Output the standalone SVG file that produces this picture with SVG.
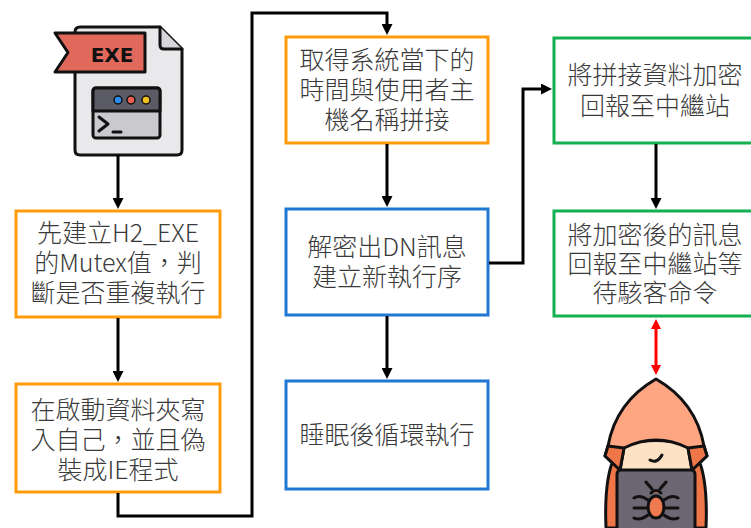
<svg xmlns="http://www.w3.org/2000/svg" width="751" height="528" viewBox="0 0 751 528">
  <style>
    .box { fill: #ffffff; stroke-width: 3; }
    .orange { stroke: #ff9b0a; }
    .blue { stroke: #1f78d2; }
    .green { stroke: #12b050; }
    .lbl { font-family: "Noto Sans CJK TC", "Noto Sans CJK SC", sans-serif; font-size: 25px; font-weight: 300; fill: #3a3a3a; text-anchor: middle; }
    .conn { fill: none; stroke: #000000; stroke-width: 3; }
    .ink { stroke: #111111; stroke-width: 3; stroke-linejoin: round; stroke-linecap: round; }
  </style>
  <defs>
    <marker id="arrow" markerUnits="userSpaceOnUse" markerWidth="11" markerHeight="11" refX="3" refY="5.5" orient="auto">
      <path d="M0,0 L11,5.5 L0,11 Z" fill="#000000"/>
    </marker>
    <marker id="arrowRed" markerUnits="userSpaceOnUse" markerWidth="10" markerHeight="10" refX="3" refY="5" orient="auto-start-reverse">
      <path d="M0,0 L10,5 L0,10 Z" fill="#ff0000"/>
    </marker>
  </defs>

  <rect x="0" y="0" width="751" height="528" fill="#ffffff"/>

  <!-- executable file icon -->
  <g id="exe-icon">
    <path class="ink" d="M80,27 L160,27 L182,49 L182,150 Q182,155 177,155 L80,155 Q75,155 75,150 L75,32 Q75,27 80,27 Z" fill="#e9e9ec"/>
    <path class="ink" d="M160,27 L160,45 Q160,49 164,49 L182,49" fill="#d6d6da"/>
    <path class="ink" d="M55,33 L145,33 L145,72 L55,72 L68,52.5 Z" fill="#e0695c"/>
    <text x="112" y="62" font-family="DejaVu Sans, sans-serif" font-weight="bold" font-size="20" fill="#111111" text-anchor="middle">EXE</text>
    <rect class="ink" x="93" y="88" width="67" height="50" rx="3" fill="#c9c9ce"/>
    <path class="ink" d="M96,88 L157,88 Q160,88 160,91 L160,111 L93,111 L93,91 Q93,88 96,88 Z" fill="#5b5b66"/>
    <circle cx="118" cy="100" r="4" fill="#2e8cf0" stroke="#111" stroke-width="1.5"/>
    <circle cx="131" cy="100" r="4" fill="#e8604f" stroke="#111" stroke-width="1.5"/>
    <circle cx="146" cy="100" r="4" fill="#f4c020" stroke="#111" stroke-width="1.5"/>
    <path class="ink" d="M99,117 L108,124 L99,131" fill="none"/>
    <path class="ink" d="M113,132 L121,132" fill="none"/>
  </g>

  <!-- process steps -->
  <g id="step-mutex">
    <rect class="box orange" x="16" y="211" width="204" height="106"/>
    <text class="lbl"><tspan x="118" y="242">先建立H2_EXE</tspan><tspan x="118" y="272">的Mutex值，判</tspan><tspan x="118" y="302">斷是否重複執行</tspan></text>
  </g>

  <g id="step-startup">
    <rect class="box orange" x="16" y="384" width="204" height="108"/>
    <text class="lbl"><tspan x="118" y="419">在啟動資料夾寫</tspan><tspan x="118" y="449">入自己，並且偽</tspan><tspan x="118" y="479">裝成IE程式</tspan></text>
  </g>

  <g id="step-hostinfo">
    <rect class="box orange" x="286" y="37" width="202" height="106"/>
    <text class="lbl"><tspan x="387" y="69">取得系統當下的</tspan><tspan x="387" y="99">時間與使用者主</tspan><tspan x="387" y="129">機名稱拼接</tspan></text>
  </g>

  <g id="step-decrypt">
    <rect class="box blue" x="286" y="209" width="202" height="106"/>
    <text class="lbl"><tspan x="387" y="256">解密出DN訊息</tspan><tspan x="387" y="286">建立新執行序</tspan></text>
  </g>

  <g id="step-sleep">
    <rect class="box blue" x="286" y="381" width="202" height="108"/>
    <text class="lbl" x="387" y="444">睡眠後循環執行</text>
  </g>

  <g id="step-report">
    <rect class="box green" x="554" y="38" width="204" height="105"/>
    <text class="lbl"><tspan x="655" y="84">將拼接資料加密</tspan><tspan x="655" y="115">回報至中繼站</tspan></text>
  </g>

  <g id="step-wait">
    <rect class="box green" x="554" y="211" width="204" height="105"/>
    <text class="lbl"><tspan x="655" y="244">將加密後的訊息</tspan><tspan x="655" y="273">回報至中繼站等</tspan><tspan x="655" y="302">待駭客命令</tspan></text>
  </g>

  <!-- attacker icon -->
  <g id="hacker">
    <path class="ink" d="M614,458 Q604,480 606,528 L628,528 L628,470 Z" fill="#ef7648"/>
    <path class="ink" d="M698,458 Q708,480 706,528 L684,528 L684,470 Z" fill="#ef7648"/>
    <path class="ink" d="M622,445 Q656,436 690,445 L692,472 L620,472 Z" fill="#fde3c4"/>
    <path class="ink" d="M650,460 Q657,464 662,455" fill="none"/>
    <path class="ink" d="M656,379 Q616,402 608,446 L605,456 L620,470 L624,448 Q656,432 688,448 L692,470 L707,456 L704,446 Q696,402 656,379 Z" fill="#ffa582"/>
    <path class="ink" d="M608,446 L605,456 L620,470 L624,448 Z" fill="#ef7648"/>
    <path class="ink" d="M704,446 L707,456 L692,470 L688,448 Z" fill="#ef7648"/>
    <rect class="ink" x="617" y="470" width="78" height="62" rx="4" fill="#6c6772"/>
    <ellipse class="ink" cx="656" cy="507" rx="8" ry="11" fill="#f07a4f"/>
    <path class="ink" d="M651,493 Q656,488 661,493" fill="#f07a4f"/>
    <path class="ink" d="M648,500 Q640,494 634,498 M664,500 Q672,494 678,498 M648,508 L634,508 M664,508 L678,508 M648,515 Q640,521 634,518 M664,515 Q672,521 678,518 M652,489 L646,482 M660,489 L666,482" fill="none"/>
  </g>

  <!-- connectors -->
  <g id="connectors">
    <path class="conn" d="M118,155 L118,201" marker-end="url(#arrow)"/>
    <path class="conn" d="M118,318 L118,374" marker-end="url(#arrow)"/>
    <path class="conn" d="M118,493 L118,516 L252,516 L252,13 L387,13 L387,27" marker-end="url(#arrow)"/>
    <path class="conn" d="M387,144 L387,199" marker-end="url(#arrow)"/>
    <path class="conn" d="M387,316 L387,371" marker-end="url(#arrow)"/>
    <path class="conn" d="M489,263 L523,263 L523,89 L544,89" marker-end="url(#arrow)"/>
    <path class="conn" d="M656,144 L656,201" marker-end="url(#arrow)"/>
    <path d="M656,326 L656,368" fill="none" stroke="#ff0000" stroke-width="3" marker-start="url(#arrowRed)" marker-end="url(#arrowRed)"/>
  </g>
</svg>
